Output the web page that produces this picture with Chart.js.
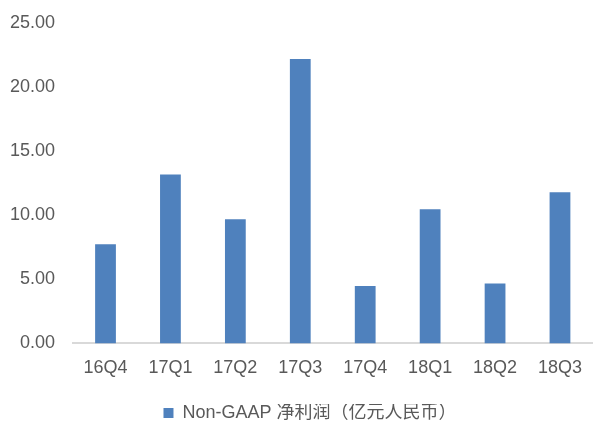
<!DOCTYPE html>
<html>
<head>
<meta charset="utf-8">
<script src="https://cdn.jsdelivr.net/npm/chart.js@4/dist/chart.umd.min.js"></script>
<style>
  html, body { margin:0; padding:0; background:#fff; }
  #wrap { width:596px; height:421px; position:relative; }
</style>
</head>
<body>
<div id="wrap"><canvas id="c"></canvas></div>
<script>
// ── Data ─────────────────────────────────────────────────────
const quarters   = ['16Q4','17Q1','17Q2','17Q3','17Q4','18Q1','18Q2','18Q3'];
const netProfit  = [7.74, 13.17, 9.68, 22.18, 4.48, 10.46, 4.68, 11.78];
const seriesName = 'Non-GAAP 净利润（亿元人民币）';
const yTicks     = [0, 5, 10, 15, 20, 25];

const labelFont = { family:'"Liberation Sans", Arial, "Noto Sans CJK SC", sans-serif', size:18 };

// nudge the legend right/down, like the original
const legendShift = {
  id:'legendShift',
  afterLayout(chart) {
    const lg = chart.legend;
    lg.left += 16; lg.right += 16;
    lg.top += 11;  lg.bottom += 11;
  }
};

new Chart(document.getElementById('c').getContext('2d'), {
  type: 'bar',
  data: {
    labels: quarters,
    datasets: [{
      label: seriesName, data: netProfit,
      backgroundColor:'#4f81bd', borderWidth:0,
      barPercentage:0.32, categoryPercentage:1
    }]
  },
  plugins: [legendShift],
  options: {
    responsive:true, maintainAspectRatio:false, animation:false,
    layout: { padding:{ top:0, right:0, left:-8, bottom:0 } },
    scales: {
      x: {
        grid:{ display:false, drawTicks:false },
        border:{ display:true, color:'#d9d9d9', width:2 },
        ticks:{ color:'#595959', font:labelFont, padding:14 }
      },
      y: {
        min:0, max:25,
        afterBuildTicks: ax => { ax.ticks = yTicks.map(v => ({ value:v })); },
        afterFit: ax => { ax.paddingTop = Math.max(0, ax.paddingTop - 6); },
        grid:{ display:false, drawTicks:false },
        border:{ display:false },
        ticks:{ color:'#595959', font:labelFont, padding:18, callback: v => Number(v).toFixed(2) }
      }
    },
    plugins: {
      legend: {
        position:'bottom',
        labels:{
          color:'#595959', boxWidth:10, boxHeight:10, padding:0,
          font:{ family:'"Liberation Sans", Arial, "Noto Sans CJK SC", sans-serif', size:18 }
        }
      },
      tooltip:{ enabled:false }
    }
  }
});
</script>
</body>
</html>
